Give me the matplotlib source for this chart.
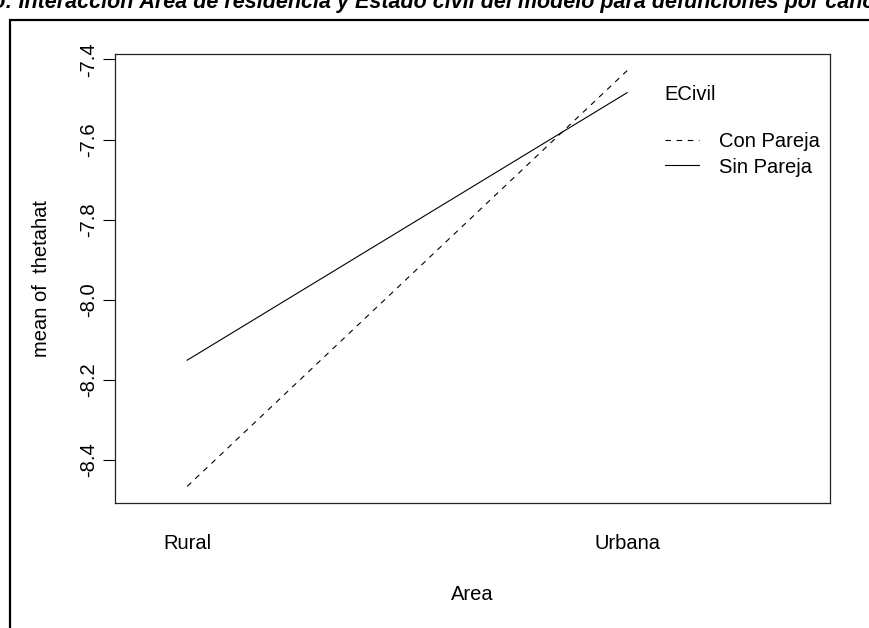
import matplotlib
matplotlib.use("Agg")
import matplotlib.pyplot as plt
from matplotlib.patches import Rectangle

# ---------------------------- data ----------------------------
areas = ["Rural", "Urbana"]
con_pareja = [-8.466, -7.428]
sin_pareja = [-8.151, -7.483]
yticks = [-8.4, -8.2, -8.0, -7.8, -7.6, -7.4]

plt.rcParams["font.family"] = ["Liberation Sans", "DejaVu Sans"]

W, H = 870, 628
FS = 14.5
fig = plt.figure(figsize=(W / 100, H / 100), dpi=100)

# cropped title above the frame
prefix = "Gráfico: "
rest = "Interacción Área de residencia y Estado civil del modelo para defunciones por cáncer"
tkw = dict(fontsize=15.5, fontweight="bold", fontstyle="italic", va="baseline")
probe = fig.text(0, 0, prefix, **tkw)
fig.canvas.draw()
pw = probe.get_window_extent().width
probe.remove()
fig.text((19 - pw) / W, 1 - 8 / H, prefix + rest, ha="left", **tkw)

# outer frame (runs off the right and bottom edges)
fig.patches.append(Rectangle((10 / W, -0.1), 1.2, 1 - 20 / H + 0.1,
                             transform=fig.transFigure, fill=False,
                             edgecolor="black", linewidth=1.6, clip_on=False))

ax = fig.add_axes([115 / W, 1 - 503 / H, 715 / W, 449 / H])
x = [1, 2]
ax.plot(x, con_pareja, color="black", lw=0.8, dashes=(5, 5), label="Con Pareja")
ax.plot(x, sin_pareja, color="black", lw=0.8, label="Sin Pareja")

ax.set_xlim(0.836, 2.461)
ax.set_ylim(-8.5075, -7.3865)
ax.set_xticks(x)
ax.set_xticklabels(areas)
ax.set_yticks(yticks)
ax.set_yticklabels([f"{v:.1f}" for v in yticks], rotation=90, va="center")
ax.tick_params(axis="x", length=0, pad=22, labelsize=FS)
ax.tick_params(axis="y", length=8.5, width=0.8, pad=4, labelsize=FS)
for s in ax.spines.values():
    s.set_linewidth(0.9)
    s.set_color("#222222")

ax.set_xlabel("Area", fontsize=FS, labelpad=23)
ax.set_ylabel("mean of  thetahat", fontsize=FS, labelpad=20)

leg = ax.legend(title="ECivil\n", loc="upper left", bbox_to_anchor=(0.769, 0.9300),
                frameon=False, fontsize=FS, title_fontsize=FS, borderpad=0,
                borderaxespad=0, handlelength=1.7, handletextpad=1.0,
                labelspacing=0.3, alignment="left")

fig.savefig("out.png", dpi=100)
